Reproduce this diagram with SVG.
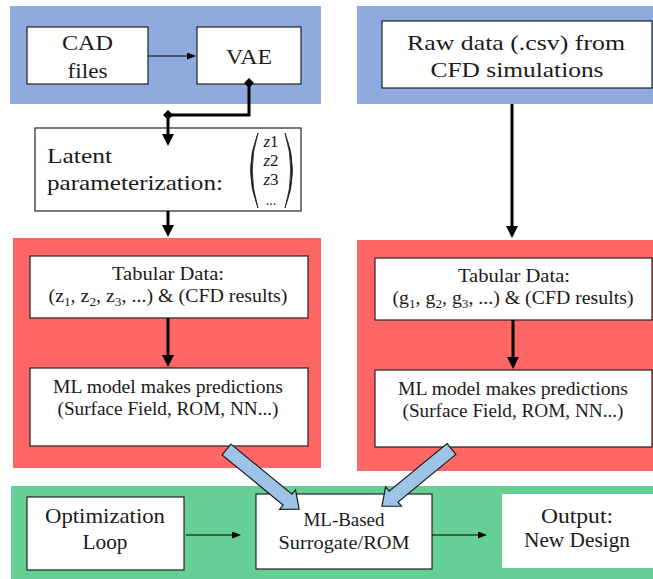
<svg xmlns="http://www.w3.org/2000/svg" width="653" height="579" viewBox="0 0 653 579">
<defs>
<style>
.pb{fill:#8FAADC}
.pr{fill:#FF6666}
.pg{fill:#66CF96}
.box{fill:#fff;stroke:#222;stroke-width:1.2}
.t{fill:#1a1a1a;text-anchor:middle}
.s{text-anchor:start}
.thick{stroke:#000;stroke-width:3;fill:none}
.thin{stroke:#000;stroke-width:1.2;fill:none}
.block{fill:#9DC3E6;stroke:#1a1a1a;stroke-width:1.2}
</style>
<marker id="ah" markerUnits="userSpaceOnUse" viewBox="0 0 12 12" refX="6" refY="6" markerWidth="12" markerHeight="12" orient="auto"><path d="M0,0 L12,6 L0,12 z" fill="#000"/></marker>
<marker id="ahs" markerUnits="userSpaceOnUse" viewBox="0 0 9 7" refX="4" refY="3.5" markerWidth="9" markerHeight="7" orient="auto"><path d="M0,0 L9,3.5 L0,7 z" fill="#000"/></marker>
<path id="dia" d="M0,-5 L5,0 L0,5 L-5,0 z" fill="#000"/>
</defs>
<rect width="653" height="579" fill="#fff"/>
<g id="panels">
<rect class="pb" x="10" y="6" width="311" height="98"/>
<rect class="pb" x="357" y="6" width="296" height="98"/>
<rect class="pr" x="13" y="238" width="308" height="230"/>
<rect class="pr" x="357" y="240" width="296" height="231"/>
<rect class="pg" x="11" y="486" width="642" height="93"/>
</g>
<g id="cad">
<rect class="box" x="27" y="27" width="121" height="57"/>
<text class="t" font-family="Liberation Serif, serif" font-size="22" x="87.5" y="50" textLength="51" lengthAdjust="spacingAndGlyphs">CAD</text>
<text class="t" font-family="Liberation Serif, serif" font-size="22" x="87.5" y="78" textLength="40" lengthAdjust="spacingAndGlyphs">files</text>
</g>
<g id="vae">
<rect class="box" x="197" y="27" width="104" height="57"/>
<text class="t" font-family="Liberation Serif, serif" font-size="22" x="249" y="64" textLength="46" lengthAdjust="spacingAndGlyphs">VAE</text>
</g>
<g id="rawdata">
<rect class="box" x="382" y="21" width="270" height="67"/>
<text class="t" font-family="Liberation Serif, serif" font-size="22" x="516" y="50" textLength="218" lengthAdjust="spacingAndGlyphs">Raw data (.csv) from</text>
<text class="t" font-family="Liberation Serif, serif" font-size="22" x="517" y="77" textLength="173" lengthAdjust="spacingAndGlyphs">CFD simulations</text>
</g>
<g id="latent">
<rect class="box" x="35" y="128" width="266" height="83"/>
<text class="t s" font-family="Liberation Serif, serif" font-size="22" x="47" y="163" textLength="65" lengthAdjust="spacingAndGlyphs">Latent</text>
<text class="t s" font-family="Liberation Serif, serif" font-size="22" x="47" y="190" textLength="176" lengthAdjust="spacingAndGlyphs">parameterization:</text>
<path d="M258,133 Q243,170 258,208 Q246.5,170 258,133 z" fill="#1a1a1a" stroke="#1a1a1a" stroke-width="0.8"/>
<path d="M285,133 Q300,170 285,208 Q296.5,170 285,133 z" fill="#1a1a1a" stroke="#1a1a1a" stroke-width="0.8"/>
<text class="t" font-family="Liberation Serif, serif" font-size="17" x="271" y="147"><tspan font-style="italic">z</tspan>1</text>
<text class="t" font-family="Liberation Serif, serif" font-size="17" x="271" y="166"><tspan font-style="italic">z</tspan>2</text>
<text class="t" font-family="Liberation Serif, serif" font-size="17" x="271" y="185"><tspan font-style="italic">z</tspan>3</text>
<text class="t" font-family="Liberation Serif, serif" font-size="14" x="271" y="205">...</text>
</g>
<g id="tabular-left">
<rect class="box" x="30" y="256" width="278" height="62"/>
<text class="t" font-family="Liberation Serif, serif" font-size="18" x="168" y="280" textLength="112" lengthAdjust="spacingAndGlyphs">Tabular Data:</text>
<text class="t" font-family="Liberation Serif, serif" font-size="18" x="168" y="302" textLength="239" lengthAdjust="spacingAndGlyphs">(z<tspan font-size="12" dy="4">1</tspan><tspan dy="-4">, z</tspan><tspan font-size="12" dy="4">2</tspan><tspan dy="-4">, z</tspan><tspan font-size="12" dy="4">3</tspan><tspan dy="-4">, ...) &amp; (CFD results)</tspan></text>
</g>
<g id="ml-left">
<rect class="box" x="30" y="368" width="278" height="78"/>
<text class="t" font-family="Liberation Serif, serif" font-size="18" x="168" y="393" textLength="230" lengthAdjust="spacingAndGlyphs">ML model makes predictions</text>
<text class="t" font-family="Liberation Serif, serif" font-size="18" x="168" y="415" textLength="221" lengthAdjust="spacingAndGlyphs">(Surface Field, ROM, NN...)</text>
</g>
<g id="tabular-right">
<rect class="box" x="375" y="258" width="277" height="62"/>
<text class="t" font-family="Liberation Serif, serif" font-size="18" x="514" y="282" textLength="112" lengthAdjust="spacingAndGlyphs">Tabular Data:</text>
<text class="t" font-family="Liberation Serif, serif" font-size="18" x="513" y="304" textLength="241" lengthAdjust="spacingAndGlyphs">(g<tspan font-size="12" dy="4">1</tspan><tspan dy="-4">, g</tspan><tspan font-size="12" dy="4">2</tspan><tspan dy="-4">, g</tspan><tspan font-size="12" dy="4">3</tspan><tspan dy="-4">, ...) &amp; (CFD results)</tspan></text>
</g>
<g id="ml-right">
<rect class="box" x="375" y="370" width="277" height="77"/>
<text class="t" font-family="Liberation Serif, serif" font-size="18" x="513" y="395" textLength="230" lengthAdjust="spacingAndGlyphs">ML model makes predictions</text>
<text class="t" font-family="Liberation Serif, serif" font-size="18" x="513" y="417" textLength="221" lengthAdjust="spacingAndGlyphs">(Surface Field, ROM, NN...)</text>
</g>
<g id="optimization">
<rect class="box" x="27" y="497" width="157" height="73"/>
<text class="t" font-family="Liberation Serif, serif" font-size="21" x="105" y="523" textLength="120" lengthAdjust="spacingAndGlyphs">Optimization</text>
<text class="t" font-family="Liberation Serif, serif" font-size="21" x="105" y="549" textLength="45" lengthAdjust="spacingAndGlyphs">Loop</text>
</g>
<g id="surrogate">
<rect class="box" x="256" y="494" width="176" height="75"/>
<text class="t" font-family="Liberation Serif, serif" font-size="18" x="344" y="526" textLength="81" lengthAdjust="spacingAndGlyphs">ML-Based</text>
<text class="t" font-family="Liberation Serif, serif" font-size="18" x="344" y="549" textLength="131" lengthAdjust="spacingAndGlyphs">Surrogate/ROM</text>
</g>
<g id="output">
<rect x="502" y="494" width="151" height="74" fill="#fff"/>
<text class="t" font-family="Liberation Serif, serif" font-size="21" x="577" y="523" textLength="72" lengthAdjust="spacingAndGlyphs">Output:</text>
<text class="t" font-family="Liberation Serif, serif" font-size="21" x="577" y="547" textLength="106" lengthAdjust="spacingAndGlyphs">New Design</text>
</g>
<g id="connectors">
<path class="thin" d="M148,56 H191" marker-end="url(#ahs)"/>
<path class="thick" d="M249,84 V115 H168 V140" marker-end="url(#ah)"/>
<use href="#dia" x="249" y="83"/>
<use href="#dia" x="168" y="115"/>
<path class="thick" d="M168,211 V231" marker-end="url(#ah)"/>
<path class="thick" d="M168,318 V361" marker-end="url(#ah)"/>
<path class="thick" d="M512,104 V232" marker-end="url(#ah)"/>
<path class="thick" d="M513,320 V363" marker-end="url(#ah)"/>
<path class="thin" d="M186,535 H236" marker-end="url(#ahs)"/>
<path class="thin" d="M432,535 H482" marker-end="url(#ahs)"/>
<polygon class="block" transform="translate(226.5,449.5) rotate(39.4)" points="0,-7 79,-7 79,-12.5 94,0 79,12.5 79,7 0,7"/>
<polygon class="block" transform="translate(451.5,449) rotate(140.6)" points="0,-7 75,-7 75,-12.5 90,0 75,12.5 75,7 0,7"/>
</g>
</svg>
